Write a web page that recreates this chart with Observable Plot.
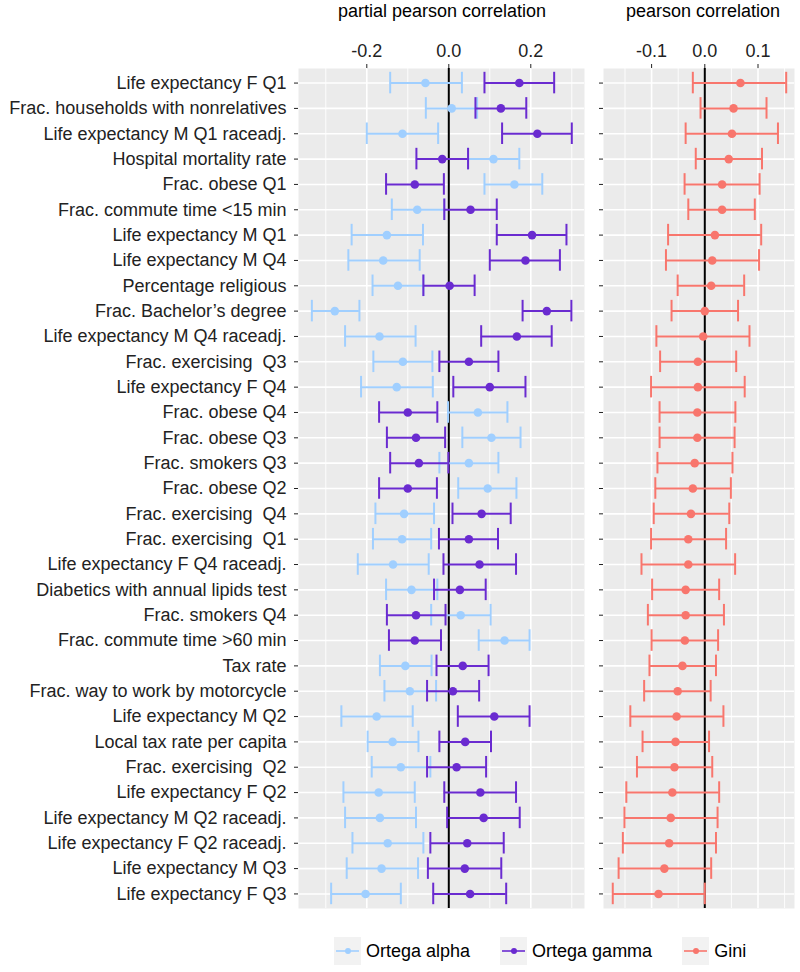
<!DOCTYPE html>
<html>
<head>
<meta charset="utf-8">
<script src="https://cdn.jsdelivr.net/npm/d3@7"></script>
<script src="https://cdn.jsdelivr.net/npm/@observablehq/plot@0.6"></script>
<style>
  html, body { margin: 0; padding: 0; background: #fff; }
  #root { position: relative; width: 800px; height: 972px; font-family: "Liberation Sans", Arial, Helvetica, sans-serif; color: #000; }
  #root svg text { white-space: pre; }
  .title { position: absolute; top: 2px; font-size: 18px; line-height: 18px; white-space: nowrap; transform: translateX(-50%); }
  .plot { position: absolute; top: 0; }
  #legend { position: absolute; left: 334px; top: 937px; display: flex; align-items: center; font-size: 18px; }
  .item { display: flex; align-items: center; margin-right: 30px; }
  .key { width: 27px; height: 28px; background: #f2f2f2; margin-right: 5px; }
</style>
</head>
<body>
<div id="root">
  <div class="title" style="left:442px">partial pearson correlation</div>
  <div class="title" style="left:703px">pearson correlation</div>
  <div class="plot" id="left" style="left:0px"></div>
  <div class="plot" id="right" style="left:590px"></div>
  <div id="legend"></div>
</div>
<script>
// ---------- data ----------
const labels = [
  "Life expectancy F Q1",
  "Frac. households with nonrelatives",
  "Life expectancy M Q1 raceadj.",
  "Hospital mortality rate",
  "Frac. obese Q1",
  "Frac. commute time <15 min",
  "Life expectancy M Q1",
  "Life expectancy M Q4",
  "Percentage religious",
  "Frac. Bachelor’s degree",
  "Life expectancy M Q4 raceadj.",
  "Frac. exercising  Q3",
  "Life expectancy F Q4",
  "Frac. obese Q4",
  "Frac. obese Q3",
  "Frac. smokers Q3",
  "Frac. obese Q2",
  "Frac. exercising  Q4",
  "Frac. exercising  Q1",
  "Life expectancy F Q4 raceadj.",
  "Diabetics with annual lipids test",
  "Frac. smokers Q4",
  "Frac. commute time >60 min",
  "Tax rate",
  "Frac. way to work by motorcycle",
  "Life expectancy M Q2",
  "Local tax rate per capita",
  "Frac. exercising  Q2",
  "Life expectancy F Q2",
  "Life expectancy M Q2 raceadj.",
  "Life expectancy F Q2 raceadj.",
  "Life expectancy M Q3",
  "Life expectancy F Q3"
];

// Ortega alpha (partial pearson correlation)
const alphaMid = [-0.057, 0.007, -0.113, 0.109, 0.160, -0.077, -0.151, -0.160, -0.124, -0.278, -0.169, -0.112, -0.127, 0.071, 0.104, 0.049, 0.095, -0.109, -0.114, -0.136, -0.091, 0.029, 0.136, -0.106, -0.095, -0.176, -0.137, -0.117, -0.171, -0.168, -0.149, -0.164, -0.203];
const alphaLo  = [-0.143, -0.056, -0.200, 0.047, 0.087, -0.139, -0.237, -0.245, -0.186, -0.334, -0.253, -0.184, -0.214, -0.002, 0.033, -0.023, 0.023, -0.179, -0.185, -0.222, -0.153, -0.043, 0.073, -0.168, -0.157, -0.262, -0.198, -0.188, -0.257, -0.253, -0.235, -0.249, -0.287];
const alphaHi  = [0.032, 0.069, -0.026, 0.172, 0.228, -0.011, -0.063, -0.071, -0.062, -0.218, -0.081, -0.040, -0.039, 0.143, 0.175, 0.121, 0.165, -0.036, -0.043, -0.049, -0.028, 0.102, 0.197, -0.042, -0.031, -0.088, -0.074, -0.045, -0.083, -0.080, -0.062, -0.075, -0.117];

// Ortega gamma (partial pearson correlation)
const gammaMid = [0.172, 0.127, 0.216, -0.016, -0.083, 0.053, 0.203, 0.187, 0.002, 0.239, 0.166, 0.049, 0.100, -0.100, -0.080, -0.073, -0.100, 0.080, 0.049, 0.075, 0.027, -0.080, -0.083, 0.034, 0.010, 0.111, 0.040, 0.019, 0.077, 0.085, 0.045, 0.039, 0.052];
const gammaLo  = [0.087, 0.065, 0.130, -0.079, -0.153, -0.011, 0.117, 0.100, -0.062, 0.180, 0.079, -0.023, 0.011, -0.170, -0.151, -0.143, -0.170, 0.009, -0.024, -0.013, -0.036, -0.151, -0.146, -0.030, -0.053, 0.022, -0.023, -0.053, -0.011, -0.004, -0.045, -0.051, -0.038];
const gammaHi  = [0.257, 0.189, 0.300, 0.047, -0.012, 0.117, 0.287, 0.271, 0.063, 0.299, 0.251, 0.121, 0.187, -0.028, -0.009, -0.001, -0.029, 0.151, 0.120, 0.164, 0.090, -0.008, -0.019, 0.097, 0.074, 0.197, 0.103, 0.091, 0.164, 0.173, 0.134, 0.128, 0.140];

// Gini (pearson correlation)
const giniMid = [0.067, 0.054, 0.051, 0.045, 0.0325, 0.0325, 0.019, 0.014, 0.012, 0.000, -0.003, -0.013, -0.013, -0.014, -0.014, -0.019, -0.0225, -0.026, -0.031, -0.031, -0.036, -0.036, -0.0375, -0.042, -0.051, -0.053, -0.055, -0.057, -0.061, -0.064, -0.067, -0.076, -0.087];
const giniLo  = [-0.0225, -0.008, -0.036, -0.017, -0.038, -0.031, -0.069, -0.073, -0.051, -0.0625, -0.091, -0.084, -0.101, -0.085, -0.085, -0.089, -0.093, -0.096, -0.101, -0.119, -0.099, -0.107, -0.100, -0.104, -0.114, -0.140, -0.117, -0.1275, -0.1475, -0.151, -0.154, -0.162, -0.173];
const giniHi  = [0.153, 0.116, 0.1375, 0.1075, 0.103, 0.094, 0.106, 0.102, 0.074, 0.0625, 0.084, 0.059, 0.075, 0.0575, 0.056, 0.052, 0.049, 0.046, 0.040, 0.057, 0.027, 0.036, 0.025, 0.021, 0.011, 0.035, 0.008, 0.014, 0.027, 0.024, 0.021, 0.012, 0.000];

const seriesNames = ["Ortega alpha", "Ortega gamma", "Gini"];
const seriesColors = ["#a0cfff", "#6a2bd0", "#f8766d"];

const leftMajor = [-0.2, 0, 0.2];
const leftMinor = [-0.3, -0.1, 0.1, 0.3];
const rightMajor = [-0.1, 0, 0.1];
const rightMinor = [-0.15, -0.05, 0.05, 0.15];

// ---------- helpers ----------
const rowsOf = (mid, lo, hi) => labels.map((label, i) => ({label, mid: mid[i], lo: lo[i], hi: hi[i]}));
const alpha = rowsOf(alphaMid, alphaLo, alphaHi);
const gamma = rowsOf(gammaMid, gammaLo, gammaHi);
const gini = rowsOf(giniMid, giniLo, giniHi);

const FONT = '"Liberation Sans", Arial, Helvetica, sans-serif';

function errorMarks(rows, color) {
  return [
    Plot.ruleY(rows, {y: "label", x1: "lo", x2: "hi", stroke: color, strokeWidth: 2}),
    Plot.tickX(rows, {y: "label", x: "lo", stroke: color, strokeWidth: 2}),
    Plot.tickX(rows, {y: "label", x: "hi", stroke: color, strokeWidth: 2})
  ];
}
function dotMark(rows, color) {
  return Plot.dot(rows, {y: "label", x: "mid", fill: color, r: 4.3, stroke: null});
}
function background(major, minor) {
  return [
    Plot.frame({fill: "#ebebeb", stroke: null}),
    Plot.ruleX(minor, {stroke: "#fff", strokeWidth: 0.9}),
    Plot.ruleX(major, {stroke: "#fff", strokeWidth: 1.6}),
    Plot.ruleY(labels, {y: d => d, stroke: "#fff", strokeWidth: 1.6}),
    Plot.ruleX([0], {stroke: "#000", strokeWidth: 2})
  ];
}
const common = {
  height: 912, marginTop: 68, marginBottom: 4,
  style: {fontFamily: FONT, fontSize: "18px", color: "#222", background: "transparent", overflow: "visible"}
};
const yOpts = {type: "band", domain: labels, padding: 0.15, round: false, label: null, tickSize: 4};

const left = Plot.plot({
  ...common,
  width: 590, marginLeft: 298, marginRight: 6,
  x: {domain: [-0.3666, 0.331], axis: "top", ticks: leftMajor, tickFormat: d => d.toFixed(1), tickSize: 5, tickPadding: 7, label: null},
  y: {...yOpts, tickPadding: 8},
  marks: [
    ...background(leftMajor, leftMinor),
    ...errorMarks(alpha, seriesColors[0]),
    ...errorMarks(gamma, seriesColors[1]),
    dotMark(alpha, seriesColors[0]),
    dotMark(gamma, seriesColors[1])
  ]
});
document.getElementById("left").appendChild(left);

const right = Plot.plot({
  ...common,
  width: 210, marginLeft: 13, marginRight: 6,
  x: {domain: [-0.1904, 0.1686], axis: "top", ticks: rightMajor, tickFormat: d => d.toFixed(1), tickSize: 5, tickPadding: 7, label: null},
  y: {...yOpts, tickFormat: () => "", tickPadding: 0},
  marks: [
    ...background(rightMajor, rightMinor),
    ...errorMarks(gini, seriesColors[2]),
    dotMark(gini, seriesColors[2])
  ]
});
document.getElementById("right").appendChild(right);

// ---------- legend ----------
const legend = document.getElementById("legend");
seriesNames.forEach((name, i) => {
  const item = document.createElement("div");
  item.className = "item";
  const key = document.createElement("div");
  key.className = "key";
  key.innerHTML = `<svg width="27" height="28"><line x1="2" x2="25" y1="14" y2="14" stroke="${seriesColors[i]}" stroke-width="1.6"/><circle cx="14" cy="14" r="3" fill="${seriesColors[i]}"/></svg>`;
  const txt = document.createElement("span");
  txt.textContent = name;
  item.appendChild(key);
  item.appendChild(txt);
  legend.appendChild(item);
});
</script>
</body>
</html>
